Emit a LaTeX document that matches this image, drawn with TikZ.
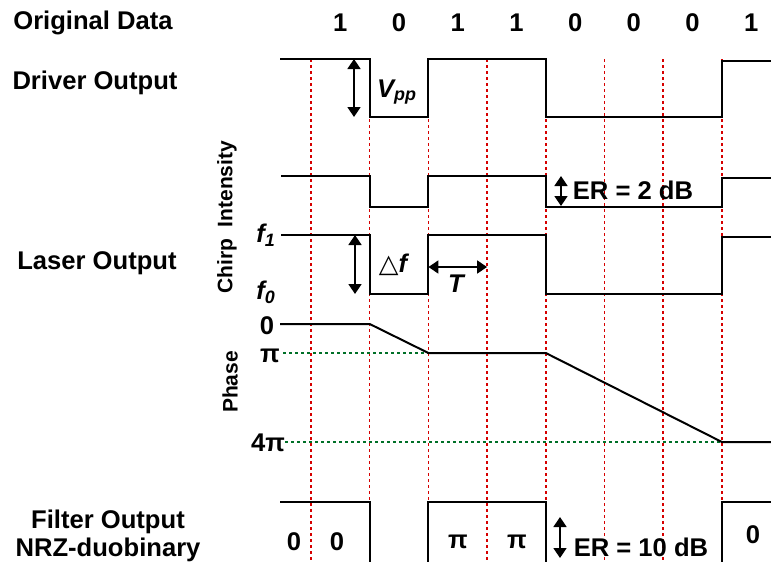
\documentclass[tikz,border=0pt]{standalone}
\usepackage{fontspec}
\setmainfont{Liberation Sans}
\newfontfamily\dvsans{DejaVu Sans}
\usetikzlibrary{arrows.meta}
\definecolor{slotred}{RGB}{214,0,0}
\definecolor{lvlgreen}{RGB}{0,112,40}

\begin{document}
\begin{tikzpicture}[x=0.5pt, y=-0.5pt,
    lbl/.style={font=\fontsize{12.8}{15}\selectfont\bfseries, inner sep=0pt},
    axl/.style={font=\fontsize{10.5}{12}\selectfont\bfseries, rotate=90, inner sep=0pt},
    wave/.style={line width=1pt},
    bitline/.style={draw=slotred, line width=0.75pt, dash pattern=on 1.5pt off 1.5pt},
    lvl/.style={draw=lvlgreen, line width=0.75pt, dash pattern=on 1.5pt off 1.5pt},
    dimarr/.style={{Triangle[width=6.5pt,length=5pt]}-{Triangle[width=6.5pt,length=5pt]}, line width=0.8pt}
]
\useasboundingbox (0,0) rectangle (771,562);

% bit slots
\foreach \x in {311,369.7,428.4,487.1,545.8,604.5,663.2,721.9}
  \draw[bitline] (\x,59) -- (\x,562);
\foreach \b [count=\i] in {1,0,1,1,0,0,0,1}
  \node[lbl] (bit\i) at ({311+58.7*(\i-0.5)},23) {\b};

% row labels
\node[lbl] (orig)  at (93,23)   {Original Data};
\node[lbl] (drv)   at (95,83)   {Driver Output};
\node[lbl] (laser) at (97,263)  {Laser Output};
\node[lbl] (filt)  at (108,522) {Filter Output};
\node[lbl] (nrz)   at (108,550) {NRZ-duobinary};

% driver output
\draw[wave] (280,59) -- (369.7,59) -- (369.7,117) -- (428.4,117) -- (428.4,59)
  -- (545.8,59) -- (545.8,117) -- (721.9,117) -- (721.9,61) -- (771,61);
\coordinate (vppT) at (354,59);
\coordinate (vppB) at (354,117);
\draw[dimarr] (vppT) -- (vppB);
\node[lbl] (vpp) at (397,92) {\itshape V\textsubscript{pp}};

% laser intensity
\node[axl] (inten) at (227,184) {Intensity};
\draw[wave] (281,176) -- (369.7,176) -- (369.7,207) -- (428.4,207) -- (428.4,176)
  -- (545.8,176) -- (545.8,207) -- (721.9,207) -- (721.9,178) -- (771,178);
\coordinate (erT) at (561,176);
\coordinate (erB) at (561,206);
\draw[dimarr] (erT) -- (erB);
\node[lbl] (er2) at (633,190) {ER = 2 dB};

% laser chirp
\node[axl] (chirp) at (227,266) {Chirp};
\node[lbl] (f1) at (266,235) {\itshape f\textsubscript{1}};
\node[lbl] (f0) at (266,292) {\itshape f\textsubscript{0}};
\draw[wave] (281,235) -- (369.7,235) -- (369.7,294) -- (428.4,294) -- (428.4,235)
  -- (545.8,235) -- (545.8,294) -- (721.9,294) -- (721.9,237) -- (771,237);
\coordinate (dfT) at (355,235);
\coordinate (dfB) at (355,294);
\draw[dimarr] (dfT) -- (dfB);
\node[lbl] (df) at (393,265) {{\dvsans\mdseries\itshape △}\itshape f};
\coordinate (tL) at (428.4,267);
\coordinate (tR) at (487.1,267);
\draw[dimarr] (tL) -- (tR);
\node[lbl] (tlab) at (456,284) {\itshape T};

% phase
\node[axl] (phase) at (230,382) {Phase};
\node[lbl] (ph0)   at (267,326) {0};
\node[lbl] (phpi)  at (270,356) {π};
\node[lbl] (ph4pi) at (268,443) {4π};
\coordinate (piL) at (283,353);
\coordinate (piR) at (428.4,353);
\coordinate (qpL) at (285,442);
\coordinate (qpR) at (721.9,442);
\draw[lvl] (piL) -- (piR);
\draw[lvl] (qpL) -- (qpR);
\draw[wave] (280,324) -- (369.7,324) -- (piR) -- (545.8,353) -- (qpR) -- (771,442);

% filter output
\draw[wave] (280,502) -- (369.7,502) -- (369.7,562);
\draw[wave] (428.4,562) -- (428.4,502) -- (545.8,502) -- (545.8,562);
\draw[wave] (721.9,562) -- (721.9,502) -- (771,502);
\node[lbl] (o1) at (294,542) {0};
\node[lbl] (o2) at (337,542) {0};
\node[lbl] (o3) at (458,542) {π};
\node[lbl] (o4) at (517,542) {π};
\node[lbl] (o5) at (753,535) {0};
\coordinate (er10T) at (560,517);
\coordinate (er10B) at (560,558);
\draw[dimarr] (er10T) -- (er10B);
\node[lbl] (er10) at (641,547) {ER = 10 dB};
\end{tikzpicture}
\end{document}
